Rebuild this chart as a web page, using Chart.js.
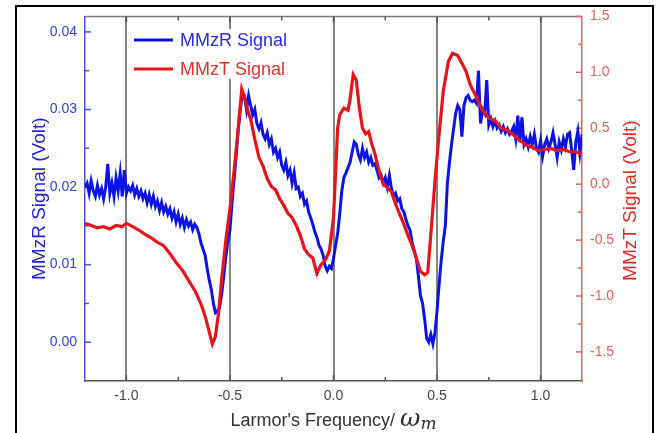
<!DOCTYPE html>
<html>
<head>
<meta charset="utf-8">
<script src="https://cdn.jsdelivr.net/npm/chart.js@4.4.1/dist/chart.umd.min.js"></script>
<style>
    body { margin: 0; background: #fff; }
    #frame { position: absolute; left: 15px; top: 5px; width: 635px; height: 440px; border: 2px solid #000; }
    #wrap { position: absolute; left: 0; top: 0; width: 667px; height: 433px; }
</style>
</head>
<body>
<div id="frame"></div>
<div id="wrap"><canvas id="chart"></canvas></div>
<script>
// Datos del gráfico
const freqStart = -1.2;
const freqStep = 0.01;

// MMzR Signal (Volt), una muestra cada 0.01 desde -1.20 hasta 1.20
const mmzrSignal = [
    0.0200, 0.0205, 0.0192, 0.0208, 0.0195, 0.0188, 0.0202, 0.0190, 0.0198, 0.0185,
    0.0200, 0.0230, 0.0192, 0.0205, 0.0188, 0.0212, 0.0195, 0.0218, 0.0188, 0.0222,
    0.0192, 0.0200, 0.0195, 0.0202, 0.0190, 0.0198, 0.0188, 0.0195, 0.0185, 0.0192,
    0.0180, 0.0190, 0.0178, 0.0188, 0.0175, 0.0182, 0.0170, 0.0180, 0.0168, 0.0175,
    0.0165, 0.0172, 0.0160, 0.0168, 0.0155, 0.0165, 0.0152, 0.0160, 0.0148, 0.0158,
    0.0150, 0.0155, 0.0145, 0.0152, 0.0148, 0.0140, 0.0128, 0.0120, 0.0112, 0.0095,
    0.0080, 0.0068, 0.0050, 0.0038, 0.0040, 0.0045, 0.0062, 0.0085, 0.0110, 0.0130,
    0.0145, 0.0180, 0.0210, 0.0240, 0.0275, 0.0300, 0.0321, 0.0318, 0.0300, 0.0318,
    0.0305, 0.0293, 0.0300, 0.0282, 0.0275, 0.0283, 0.0268, 0.0262, 0.0270, 0.0255,
    0.0262, 0.0245, 0.0250, 0.0238, 0.0245, 0.0228, 0.0222, 0.0232, 0.0215, 0.0222,
    0.0205, 0.0218, 0.0198, 0.0200, 0.0188, 0.0192, 0.0178, 0.0182, 0.0168, 0.0160,
    0.0152, 0.0142, 0.0135, 0.0125, 0.0120, 0.0112, 0.0098, 0.0092, 0.0098, 0.0095,
    0.0108, 0.0125, 0.0140, 0.0165, 0.0195, 0.0212, 0.0218, 0.0225, 0.0232, 0.0245,
    0.0258, 0.0255, 0.0242, 0.0235, 0.0250, 0.0238, 0.0245, 0.0232, 0.0238, 0.0228,
    0.0230, 0.0222, 0.0212, 0.0215, 0.0205, 0.0212, 0.0200, 0.0215, 0.0198, 0.0188,
    0.0192, 0.0182, 0.0185, 0.0172, 0.0168, 0.0158, 0.0150, 0.0144, 0.0128, 0.0118,
    0.0108, 0.0085, 0.0060, 0.0050, 0.0030, 0.0005, 0.0000, 0.0010, -0.0002, 0.0012,
    0.0040, 0.0075, 0.0105, 0.0130, 0.0150, 0.0205, 0.0232, 0.0255, 0.0275, 0.0295,
    0.0305, 0.0300, 0.0265, 0.0305, 0.0315, 0.0318, 0.0312, 0.0310, 0.0312, 0.0308,
    0.0350, 0.0282, 0.0300, 0.0295, 0.0338, 0.0280, 0.0288, 0.0278, 0.0285, 0.0276,
    0.0280, 0.0272, 0.0278, 0.0270, 0.0275, 0.0268, 0.0272, 0.0278, 0.0262, 0.0292,
    0.0258, 0.0290, 0.0255, 0.0262, 0.0252, 0.0265, 0.0255, 0.0268, 0.0250, 0.0245,
    0.0260, 0.0240, 0.0255, 0.0262, 0.0250, 0.0258, 0.0270, 0.0255, 0.0238, 0.0258,
    0.0248, 0.0262, 0.0252, 0.0268, 0.0270, 0.0248, 0.0222, 0.0258, 0.0272, 0.0245,
    0.0268
];

// MMzT Signal (Volt)
const mmztFreq = [
    -1.20, -1.17, -1.14, -1.11, -1.08, -1.05, -1.02, -1.00, -0.97, -0.94,
    -0.91, -0.88, -0.85, -0.82, -0.79, -0.76, -0.73, -0.70, -0.67, -0.64,
    -0.62, -0.60, -0.585, -0.57, -0.555, -0.54, -0.52, -0.50, -0.48, -0.46,
    -0.443, -0.43, -0.415, -0.40, -0.38, -0.36, -0.34, -0.32, -0.30, -0.28,
    -0.26, -0.24, -0.22, -0.20, -0.18, -0.16, -0.14, -0.12, -0.10, -0.08,
    -0.06, -0.04, -0.02, 0.00, 0.01, 0.02, 0.03, 0.05, 0.07, 0.08,
    0.095, 0.11, 0.125, 0.14, 0.155, 0.17, 0.185, 0.20, 0.22, 0.24,
    0.26, 0.28, 0.30, 0.32, 0.34, 0.36, 0.38, 0.40, 0.42, 0.44,
    0.455, 0.47, 0.49, 0.51, 0.53, 0.555, 0.575, 0.60, 0.62, 0.64,
    0.66, 0.69, 0.72, 0.75, 0.78, 0.81, 0.84, 0.87, 0.90, 0.93,
    0.96, 0.99, 1.02, 1.05, 1.08, 1.11, 1.14, 1.17, 1.20
];
const mmztSignal = [
    -0.35, -0.37, -0.39, -0.38, -0.40, -0.37, -0.38, -0.35, -0.38, -0.41,
    -0.45, -0.48, -0.52, -0.55, -0.62, -0.70, -0.77, -0.86, -0.95, -1.07,
    -1.18, -1.32, -1.43, -1.36, -1.15, -0.85, -0.50, -0.22, 0.12, 0.50,
    0.85, 0.78, 0.66, 0.58, 0.40, 0.24, 0.16, 0.05, -0.02, -0.05,
    -0.13, -0.19, -0.26, -0.30, -0.37, -0.46, -0.58, -0.63, -0.66, -0.80,
    -0.72, -0.68, -0.60, -0.30, 0.10, 0.50, 0.62, 0.68, 0.66, 0.76,
    0.98, 0.93, 0.68, 0.50, 0.45, 0.47, 0.36, 0.27, 0.12, 0.00,
    -0.03, -0.07, -0.18, -0.27, -0.36, -0.46, -0.55, -0.66, -0.78, -0.81,
    -0.79, -0.45, 0.03, 0.45, 0.83, 1.10, 1.17, 1.15, 1.08, 1.01,
    0.89, 0.78, 0.66, 0.59, 0.57, 0.50, 0.48, 0.44, 0.39, 0.35,
    0.33, 0.30, 0.31, 0.32, 0.30, 0.31, 0.29, 0.29, 0.27
];

// Marcas de los ejes
const xMinorTicks = [-0.75, -0.25, 0.25, 0.75];
const xMajorTicks = [-1.0, -0.5, 0.0, 0.5, 1.0];
const leftMajorTicks = [0.00, 0.01, 0.02, 0.03, 0.04];
const leftMinorTicks = [0.005, 0.015, 0.025, 0.035];
const rightMajorTicks = [-1.5, -1.0, -0.5, 0.0, 0.5, 1.0, 1.5];
const rightMinorTicks = [-1.25, -0.75, -0.25, 0.25, 0.75, 1.25];

// Colores
const BLUE = '#0a14e6';
const RED = '#e8141c';
const FONT = '"Liberation Sans", Arial, sans-serif';

const mmzrPoints = mmzrSignal.map((v, i) => ({ x: +(freqStart + i * freqStep).toFixed(2), y: v }));
const mmztPoints = mmztSignal.map((v, i) => ({ x: mmztFreq[i], y: v }));

// Plugin para marcas internas, títulos y leyenda
const decorPlugin = {
    id: 'decor',
    beforeDatasetsDraw(chart) {
        const { ctx, chartArea: a, scales } = chart;
        ctx.save();
        // línea superior
        ctx.strokeStyle = '#7a7a7a';
        ctx.lineWidth = 1.5;
        ctx.beginPath();
        ctx.moveTo(a.left, a.top);
        ctx.lineTo(a.right, a.top);
        ctx.stroke();

        const tick = (x1, y1, x2, y2, color) => {
            ctx.strokeStyle = color;
            ctx.lineWidth = 1.5;
            ctx.beginPath();
            ctx.moveTo(x1, y1);
            ctx.lineTo(x2, y2);
            ctx.stroke();
        };
        xMajorTicks.concat(xMinorTicks).forEach(v => {
            const px = scales.x.getPixelForValue(v);
            const len = xMajorTicks.includes(v) ? 6 : 4;
            tick(px, a.bottom, px, a.bottom - len, '#555');
            tick(px, a.top, px, a.top + len, '#555');
        });
        leftMajorTicks.forEach(v => {
            const py = scales.y.getPixelForValue(v);
            tick(a.left, py, a.left + 6, py, '#5050d8');
        });
        leftMinorTicks.forEach(v => {
            const py = scales.y.getPixelForValue(v);
            tick(a.left, py, a.left + 4, py, '#5050d8');
        });
        rightMajorTicks.forEach(v => {
            const py = scales.y2.getPixelForValue(v);
            tick(a.right, py, a.right - 6, py, '#e06464');
        });
        rightMinorTicks.forEach(v => {
            const py = scales.y2.getPixelForValue(v);
            tick(a.right, py, a.right - 4, py, '#e06464');
        });
        ctx.restore();
    },
    afterDraw(chart) {
        const { ctx, chartArea: a } = chart;
        const midY = (a.top + a.bottom) / 2;
        ctx.save();

        // Títulos de los ejes Y
        ctx.font = '19px ' + FONT;
        ctx.textAlign = 'center';
        ctx.textBaseline = 'alphabetic';
        ctx.fillStyle = '#2424cc';
        ctx.save();
        ctx.translate(45, midY);
        ctx.rotate(-Math.PI / 2);
        ctx.fillText('MMzR Signal (Volt)', 0, 0);
        ctx.restore();
        ctx.fillStyle = '#e02a2a';
        ctx.save();
        ctx.translate(636, midY + 2);
        ctx.rotate(-Math.PI / 2);
        ctx.fillText('MMzT Signal (Volt)', 0, 0);
        ctx.restore();

        // Título del eje X
        const base = "Larmor's Frequency/ ";
        ctx.textAlign = 'left';
        ctx.font = '18px ' + FONT;
        const w1 = ctx.measureText(base).width;
        ctx.font = 'italic 25px "DejaVu Serif", serif';
        const w2 = ctx.measureText('ω').width;
        ctx.font = 'italic 17px "DejaVu Serif", serif';
        const w3 = ctx.measureText('m').width;
        let x0 = (a.left + a.right) / 2 - (w1 + w2 + w3) / 2;
        const by = 426;
        ctx.fillStyle = '#333';
        ctx.font = '18px ' + FONT;
        ctx.fillText(base, x0, by);
        ctx.font = 'italic 25px "DejaVu Serif", serif';
        ctx.fillText('ω', x0 + w1, by);
        ctx.font = 'italic 17px "DejaVu Serif", serif';
        ctx.fillText('m', x0 + w1 + w2, by + 3);

        // Leyenda
        ctx.fillStyle = '#fff';
        ctx.fillRect(131, 29, 162, 50);
        const items = [
            { label: 'MMzR Signal', color: BLUE, text: '#2a2ae0', y: 40 },
            { label: 'MMzT Signal', color: RED, text: '#e03030', y: 69 }
        ];
        ctx.font = '18px ' + FONT;
        ctx.textBaseline = 'middle';
        items.forEach(it => {
            ctx.strokeStyle = it.color;
            ctx.lineWidth = 3;
            ctx.beginPath();
            ctx.moveTo(134, it.y);
            ctx.lineTo(173, it.y);
            ctx.stroke();
            ctx.fillStyle = it.text;
            ctx.fillText(it.label, 180, it.y + 1);
        });
        ctx.restore();
    }
};

const chart = new Chart(document.getElementById('chart'), {
    type: 'line',
    data: {
        datasets: [
            {
                label: 'MMzT Signal',
                data: mmztPoints,
                yAxisID: 'y2',
                borderColor: RED,
                borderWidth: 3.2,
                pointRadius: 0,
                tension: 0,
                order: 0
            },
            {
                label: 'MMzR Signal',
                data: mmzrPoints,
                yAxisID: 'y',
                borderColor: BLUE,
                borderWidth: 3,
                pointRadius: 0,
                tension: 0,
                order: 1
            }
        ]
    },
    options: {
        responsive: true,
        maintainAspectRatio: false,
        animation: false,
        layout: { padding: { top: 15, left: 0, right: 0, bottom: 0 } },
        plugins: {
            legend: { display: false },
            tooltip: { enabled: false }
        },
        scales: {
            x: {
                type: 'linear',
                position: 'bottom',
                min: -1.2,
                max: 1.2,
                ticks: {
                    stepSize: 0.5,
                    includeBounds: false,
                    padding: 7,
                    maxRotation: 0,
                    color: '#444',
                    font: { family: FONT, size: 14 },
                    callback: v => v.toFixed(1)
                },
                grid: { color: '#858585', lineWidth: 2, drawTicks: false },
                border: { display: true, color: '#555', width: 1.5 },
                afterFit: s => { s.height = 52; }
            },
            y: {
                type: 'linear',
                position: 'left',
                min: -0.005,
                max: 0.042,
                ticks: {
                    stepSize: 0.01,
                    includeBounds: false,
                    padding: 8,
                    color: '#3c3cd2',
                    font: { family: FONT, size: 14 },
                    callback: v => v.toFixed(2)
                },
                grid: { display: false, drawTicks: false },
                border: { display: true, color: '#5050d8', width: 1.5 },
                afterFit: s => { s.width = 85; }
            },
            y2: {
                type: 'linear',
                position: 'right',
                min: -1.76,
                max: 1.5,
                ticks: {
                    stepSize: 0.5,
                    includeBounds: false,
                    padding: 8,
                    color: '#e06060',
                    font: { family: FONT, size: 14 },
                    callback: v => v.toFixed(1)
                },
                grid: { display: false, drawTicks: false },
                border: { display: true, color: '#e06464', width: 1.5 },
                afterFit: s => { s.width = 85; }
            }
        }
    },
    plugins: [decorPlugin]
});
</script>
</body>
</html>
